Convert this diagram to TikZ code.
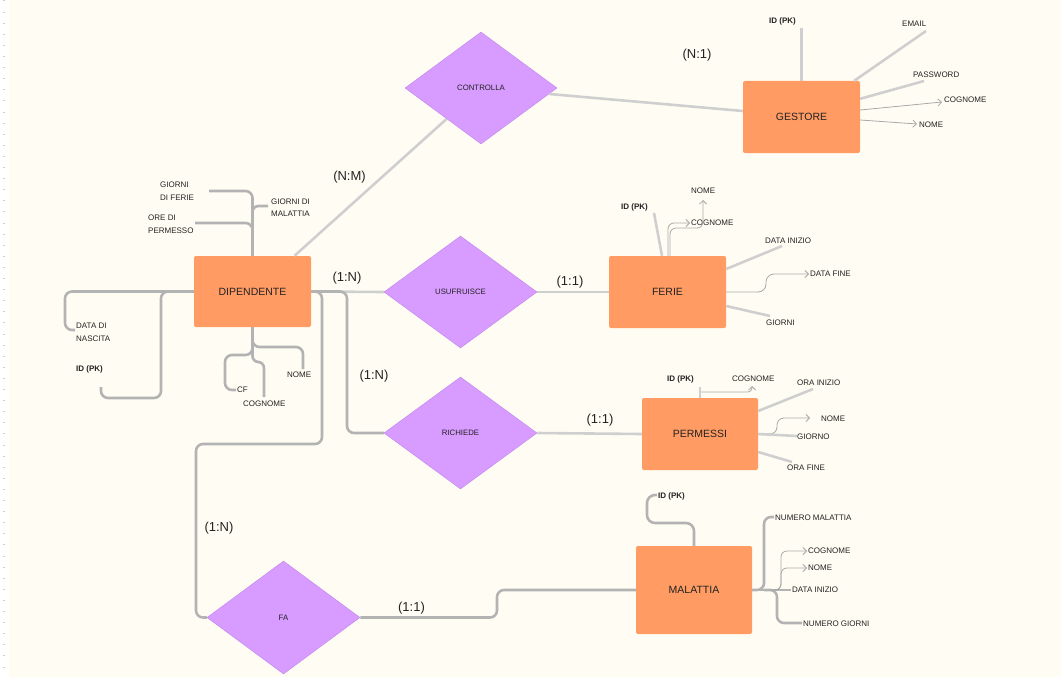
\documentclass[tikz,border=0pt]{standalone}
\usepackage{fontspec}
\setmainfont{Liberation Sans}
\usetikzlibrary{shapes.geometric,arrows.meta}
\definecolor{bgc}{HTML}{FFFDF3}
\definecolor{entc}{HTML}{FF9B63}
\definecolor{relc}{HTML}{D89BFF}
\definecolor{relb}{HTML}{C48BEE}
\definecolor{lnDc}{HTML}{B3B3B3}
\definecolor{lnLc}{HTML}{CFCFCF}
\definecolor{thinc}{HTML}{A8A8A8}
\definecolor{txt}{HTML}{222222}
\definecolor{dashc}{HTML}{D0D0D0}
\tikzset{
  ent/.style={fill=entc, rounded corners=2pt, minimum width=117, minimum height=72, inner sep=0, text=txt, font=\fontsize{10.5}{12}\selectfont},
  rel/.style={diamond, fill=relc, draw=relb, line width=0.5, minimum width=152, minimum height=112, aspect=1.357, inner sep=0, text=txt, font=\fontsize{7.8}{9}\selectfont},
  att/.style={anchor=west, inner sep=0, align=left, text=txt, font=\fontsize{8}{12.5}\selectfont},
  pk/.style={att, font=\bfseries\fontsize{8}{10}\selectfont},
  card/.style={inner sep=0, text=txt, font=\fontsize{13}{15}\selectfont},
  lnD/.style={draw=lnDc, line width=2.6},
  lnL/.style={draw=lnLc, line width=2.6},
  thinarr/.style={draw=thinc, line width=0.8, -{Straight Barb[length=3.5pt,width=7pt]}},
}
\begin{document}
\begin{tikzpicture}[x=1pt,y=-1pt]
\useasboundingbox (0,0) rectangle (1061,677);
\fill[bgc] (9,0) rectangle (1061,677);
\fill[white] (0,0) rectangle (9,677);
\foreach \k in {0,...,61} \fill[dashc] (2.5,{0.5+11.1*\k}) rectangle (5,{1.5+11.1*\k});

% entities
\node[ent, minimum height=71] (dip) at (252.5,291.5) {DIPENDENTE};
\node[ent] (fer) at (667.5,292) {FERIE};
\node[ent, minimum width=116] (per) at (700,434) {PERMESSI};
\node[ent, minimum width=116, minimum height=88] (mal) at (694,590) {MALATTIA};
\node[ent] (ges) at (801.5,117) {GESTORE};

% relationships
\node[rel] (con) at (481,88) {CONTROLLA};
\node[rel, minimum width=153] (usu) at (460.5,292) {USUFRUISCE};
\node[rel, minimum width=153] (ric) at (460.5,433) {RICHIEDE};
\node[rel, minimum width=153, minimum height=113] (fa) at (283.5,617.5) {FA};

% relationship connectors
\draw[lnL] (con) -- ([yshift=6]ges.west);
\draw[lnL] ([xshift=42]dip.north) -- (con);
\draw[lnL] (dip.east) -- (usu.west);
\draw[lnL] (usu.east) -- (fer.west);
\draw[lnD, rounded corners=7] (dip.east) -- (347,291.5) |- (ric.west);
\draw[lnL] (ric.east) -- (per.west);
\draw[lnD, rounded corners=7] (dip.east) -- (322,291.5) -- (322,444) -- (196,444) |- (fa.west);
\draw[lnD, rounded corners=7] (fa.east) -- (497,617.5) -- (497,590) -- (mal.west);

% cardinalities
\node[card] (c1) at (697,55) {(N:1)};
\node[card] (c2) at (349.5,177) {(N:M)};
\node[card] (c3) at (347,278) {(1:N)};
\node[card] (c4) at (570,282) {(1:1)};
\node[card] (c5) at (374,376) {(1:N)};
\node[card] (c6) at (600,420) {(1:1)};
\node[card] (c7) at (219,528) {(1:N)};
\node[card] (c8) at (411.5,608) {(1:1)};

% DIPENDENTE attributes
\node[att] (dgf) at (160,191) {GIORNI\\DI FERIE};
\node[att] (dop) at (148,224) {ORE DI\\PERMESSO};
\node[att] (dgm) at (271,207.5) {GIORNI DI\\MALATTIA};
\node[att] (ddn) at (76,332.5) {DATA DI\\NASCITA};
\node[pk] (did) at (76,369) {ID (PK)};
\node[att] (dno) at (287,375) {NOME};
\node[att] (dcf) at (237,390) {CF};
\node[att] (dco) at (243,404) {COGNOME};
\draw[lnD, rounded corners=7] (dip.north) -- (252.5,191) -- (209,191);
\draw[lnD, rounded corners=7] (252.5,240) -- (252.5,223) -- (195,223);
\draw[lnD, rounded corners=6] (252.5,225) |- (268,206);
\draw[lnD, rounded corners=7] (dip.west) -- (65,291.5) -- (65,330) -- (75,330);
\draw[lnD, rounded corners=7] (175,291.5) -- (161,291.5) -- (161,398) -- (101,398) -- (101,387);
\draw[lnD, rounded corners=7] (dip.south) -- (252.5,347) -- (303,347) -- (303,369);
\draw[lnD, rounded corners=7] (252.5,335) -- (252.5,355) -- (225,355) -- (225,390) -- (236,390);
\draw[lnD, rounded corners=6] (252.5,340) -- (252.5,362) -- (264,362) -- (264,397);

% FERIE attributes
\node[pk] (fid) at (621,207) {ID (PK)};
\node[att] (fno) at (691,191) {NOME};
\node[att] (fco) at (691,223) {COGNOME};
\node[att] (fdi) at (765,241) {DATA INIZIO};
\node[att] (fdf) at (810,274) {DATA FINE};
\node[att] (fgi) at (766,323) {GIORNI};
\draw[lnL] (654,213) -- ([xshift=-5.5]fer.north);
\draw[thinarr, rounded corners=6] ([xshift=0.5]fer.north) |- (690,223);
\draw[thinarr, rounded corners=6] ([xshift=2.5]fer.north) |- (703,228) -- (703,200);
\draw[lnL] ([yshift=23]fer.east) -- (782,246);
\draw[thinarr, rounded corners=8] (fer.east) -- (766,292) -- (766,274) -- (809,274);
\draw[lnL] ([yshift=-14]fer.east) -- (770,316);

% PERMESSI attributes
\node[pk] (pid) at (667,379) {ID (PK)};
\node[att] (pco) at (732,379) {COGNOME};
\node[att] (poi) at (797,383) {ORA INIZIO};
\node[att] (pno) at (821,419) {NOME};
\node[att] (pgi) at (797,437) {GIORNO};
\node[att] (pof) at (787,468) {ORA FINE};
\draw[lnL] (per.north) -- (700,387);
\draw[thinarr, rounded corners=4] (701,392) -- (752,392) -- (752,386);
\draw[lnL] ([yshift=23]per.east) -- (813,389);
\draw[thinarr, rounded corners=7] (per.east) -- (777,434) -- (777,418) -- (810,418);
\draw[lnL] (per.east) -- (797,436);
\draw[lnL] ([yshift=-18]per.east) -- (792,462);

% MALATTIA attributes
\node[pk] (mid) at (658,496) {ID (PK)};
\node[att] (mnm) at (775,518) {NUMERO MALATTIA};
\node[att] (mco) at (808,551) {COGNOME};
\node[att] (mno) at (808,568) {NOME};
\node[att] (mdi) at (792,590) {DATA INIZIO};
\node[att] (mng) at (803,624) {NUMERO GIORNI};
\draw[lnD, rounded corners=8] (mal.north) -- (694,523) -- (647,523) -- (647,495) -- (657,495);
\draw[lnD, rounded corners=7] (mal.east) -- (764,590) -- (764,517) -- (774,517);
\draw[lnD] (mal.east) -- (791,590);
\draw[lnD, rounded corners=7] (764,590) -- (777,590) -- (777,623) -- (802,623);
\draw[thinarr, rounded corners=6] (770,590) -| (781,551) -- (807,551);
\draw[thinarr, rounded corners=6] (770,590) -| (781,568) -- (807,568);

% GESTORE attributes
\node[pk] (gid) at (769,21) {ID (PK)};
\node[att] (gem) at (902,24) {EMAIL};
\node[att] (gpw) at (913,75) {PASSWORD};
\node[att] (gco) at (944,100) {COGNOME};
\node[att] (gno) at (919,125) {NOME};
\draw[lnL] (ges.north) -- (801.5,28);
\draw[lnL] ([xshift=-6]ges.north east) -- (926,31);
\draw[lnL] ([yshift=-18]ges.north east) -- (924,81);
\draw[thinarr] ([yshift=7]ges.east) -- (942,102);
\draw[thinarr] ([yshift=-3]ges.east) -- (917,124);
\end{tikzpicture}
\end{document}
